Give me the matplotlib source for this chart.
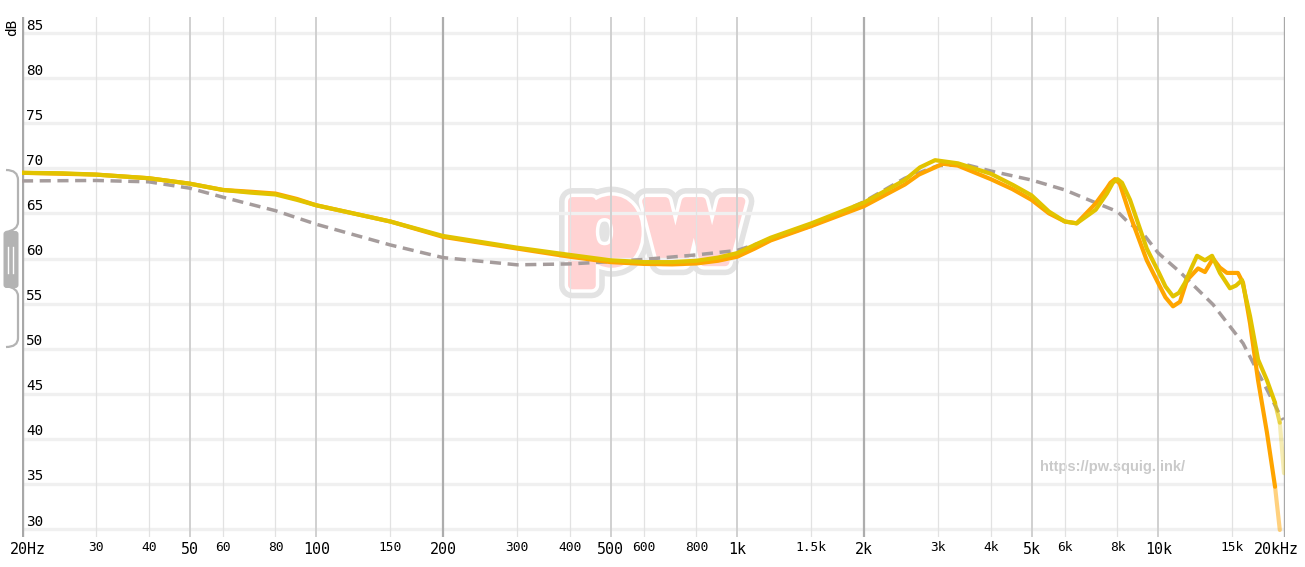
import numpy as np
import matplotlib
matplotlib.use("Agg")
import matplotlib.pyplot as plt
import matplotlib.patheffects as pe
from matplotlib.collections import LineCollection
from matplotlib.patches import FancyBboxPatch, PathPatch
from matplotlib.path import Path

# ---------------- data ----------------
yellow_f = [20, 25, 30, 40, 50, 60, 70, 80, 90, 100, 150, 200, 300, 400, 500, 600, 700, 800,
            900, 1000, 1100, 1200, 1500, 2000, 2500, 2716, 2950, 3344, 4000, 4518, 5000, 5500,
            6000, 6400, 7100, 7550, 7800, 8000, 8200, 8570, 9390, 10040, 10400, 10840, 11200,
            11570, 12000, 12360, 12910, 13420, 14010, 14800, 15300, 15810, 16520, 17260,
            18120, 18940, 19440, 19890]
yellow_db = [69.5, 69.45, 69.3, 68.9, 68.3, 67.6, 67.3, 67.1, 66.5, 65.9, 64.1, 62.5, 61.2,
             60.4, 59.8, 59.6, 59.6, 59.75, 60.1, 60.6, 61.5, 62.3, 63.9, 66.2, 68.7, 70.1,
             70.9, 70.55, 69.4, 68.15, 67.0, 65.2, 64.1, 63.9, 65.4, 67.2, 68.4, 68.8, 68.4,
             66.5, 61.1, 58.4, 56.9, 55.8, 56.2, 57.3, 59.0, 60.3, 59.8, 60.3, 58.4, 56.7,
             57.0, 57.6, 53.6, 48.8, 46.5, 44.0, 41.8, 36.2]

orange_f = [20, 30, 40, 50, 60, 70, 80, 90, 100, 150, 200, 300, 400, 500, 600, 700, 800, 900,
            1000, 1100, 1200, 1500, 2000, 2500, 2700, 3080, 3340, 4000, 4500, 5000, 5500,
            6000, 6400, 7100, 7550, 7700, 7890, 8100, 8570, 9390, 10040, 10400, 10840, 11260,
            11700, 12430, 12910, 13490, 14000, 14560, 15460, 15900, 16520, 17260, 18120,
            18940, 19440]
orange_db = [69.5, 69.3, 68.9, 68.3, 67.6, 67.4, 67.2, 66.6, 65.9, 64.1, 62.4, 61.1, 60.2,
             59.6, 59.4, 59.35, 59.45, 59.75, 60.2, 61.1, 62.0, 63.6, 65.8, 68.2, 69.3, 70.5,
             70.3, 68.8, 67.7, 66.5, 65.0, 64.1, 63.9, 66.1, 67.8, 68.4, 68.8, 68.3, 64.8,
             59.8, 57.1, 55.7, 54.7, 55.2, 57.6, 58.9, 58.5, 60.0, 59.0, 58.4, 58.4, 57.3,
             52.8, 46.5, 40.7, 34.7, 29.9]

target_f = [20, 30, 40, 50, 60, 80, 100, 150, 200, 300, 400, 500, 600, 800, 1000, 1500, 2000,
            2500, 3000, 3500, 4000, 5000, 6000, 7000, 8000, 8570, 9050, 10000, 11260, 13490,
            15900, 19440, 19800]
target_db = [68.6, 68.65, 68.5, 67.8, 66.8, 65.3, 63.8, 61.5, 60.1, 59.3, 59.4, 59.65, 59.9,
             60.4, 60.9, 63.6, 66.3, 68.9, 70.3, 70.4, 69.7, 68.7, 67.6, 66.3, 65.2, 63.8,
             63.2, 60.6, 58.5, 54.9, 50.6, 42.7, 42.1]

y_ticks = [30, 35, 40, 45, 50, 55, 60, 65, 70, 75, 80, 85]
x_label_freqs = [20, 30, 40, 50, 60, 80, 100, 150, 200, 300, 400, 500, 600, 800, 1000, 1500,
                 2000, 3000, 4000, 5000, 6000, 8000, 10000, 15000, 20000]
x_label_text = ["20Hz", "30", "40", "50", "60", "80", "100", "150", "200", "300", "400", "500",
                "600", "800", "1k", "1.5k", "2k", "3k", "4k", "5k", "6k", "8k", "10k", "15k",
                "20kHz"]
big_labels = {20, 50, 100, 200, 500, 1000, 2000, 5000, 10000, 20000}
mid_lines = [50, 100, 500, 1000, 5000, 10000]
dark_lines = [200, 2000]
edge_lines = [20, 20000]

YELLOW = "#e2c300"
ORANGE = "#ffa500"
TARGET = "#a59c9c"

# ---------------- figure ----------------
W, H = 1305, 567
fig = plt.figure(figsize=(W / 100, H / 100), dpi=100)
fig.patch.set_facecolor("white")

bg = fig.add_axes([0, 0, 1, 1], zorder=0)
bg.set_xlim(0, W)
bg.set_ylim(H, 0)
bg.axis("off")

L, R, T, B = 22, 1285, 17, 537
ax = fig.add_axes([L / W, 1 - B / H, (R - L) / W, (B - T) / H], zorder=2)
ax.patch.set_alpha(0)
ax.set_xscale("log")
ax.set_xlim(20, 20000)
px_per_db = 9.02
ax.set_ylim(85 - (B - 33) / px_per_db, 85 + (33 - T) / px_per_db)
for s in ax.spines.values():
    s.set_visible(False)
ax.set_xticks([])
ax.set_yticks([])
ax.minorticks_off()

# horizontal grid
for v in y_ticks:
    ax.axhline(v, color="#f0f0f0", lw=2.4, zorder=0)

# vertical grid
for f in x_label_freqs:
    if f in edge_lines:
        ax.axvline(f, color="#a8a8a8", lw=2.4, zorder=1)
    elif f in dark_lines:
        ax.axvline(f, color="#adadad", lw=1.6, zorder=1)
    elif f in mid_lines:
        ax.axvline(f, color="#d0d0d0", lw=1.4, zorder=1)
    else:
        ax.axvline(f, color="#e2e2e2", lw=0.9, zorder=1)

mono = "DejaVu Sans Mono"
# y labels
for v in y_ticks:
    ax.text(0.0035, v + 7.5 / px_per_db, str(v), transform=ax.get_yaxis_transform(),
            ha="left", va="center", fontsize=10.4, family=mono, color="#000000", zorder=3)

# x labels
for f, t in zip(x_label_freqs, x_label_text):
    big = f in big_labels
    ha = "center"
    xx = f
    if f == 20:
        ha = "left"
        xx = 20 * 10 ** (-12 / 421)
    elif f == 20000:
        ha = "right"
        xx = 20000 * 10 ** (14 / 421)
    ax.text(xx, -0.025 if big else -0.021, t, transform=ax.get_xaxis_transform(),
            ha=ha, va="center", fontsize=10.8 if big else 9.3, family=mono,
            color="#000000", clip_on=False)

bg.text(12, 27, "dB", rotation=90, ha="center", va="center", fontsize=10.4,
        family=mono, color="#000000")

# watermark
PINK = "#ffd3d3"
bg.text(654, 262, "pw", fontsize=80, fontweight="bold", color=PINK, ha="center",
        va="baseline", family="DejaVu Sans", zorder=1,
        path_effects=[pe.Stroke(linewidth=19, foreground="#e3e3e3", joinstyle="round",
                                capstyle="round"),
                      pe.Stroke(linewidth=11, foreground="white", joinstyle="round",
                                capstyle="round"),
                      pe.Stroke(linewidth=6, foreground=PINK, joinstyle="round",
                                capstyle="round"),
                      pe.Normal()])
bg.text(1113, 467, "https://pw.squig.link/", fontsize=10.5, fontweight="bold",
        color="#cacaca", ha="center", va="center", family="Liberation Sans")

# left scale widget
wc = "#b3b3b3"
up = Path([(6, 170), (18, 170), (18, 180), (18, 222), (18, 230), (6, 232)],
          [Path.MOVETO, Path.CURVE3, Path.CURVE3, Path.LINETO, Path.CURVE3, Path.CURVE3])
bg.add_patch(PathPatch(up, fill=False, ec=wc, lw=1.6))
lo = Path([(6, 286), (18, 288), (18, 296), (18, 338), (18, 347), (6, 347)],
          [Path.MOVETO, Path.CURVE3, Path.CURVE3, Path.LINETO, Path.CURVE3, Path.CURVE3])
bg.add_patch(PathPatch(lo, fill=False, ec=wc, lw=1.6))
bg.add_patch(FancyBboxPatch((3.5, 231), 15, 57, boxstyle="round,pad=0,rounding_size=3",
                            fc=wc, ec="none"))
bg.plot([8.3, 8.3], [247, 273], color="white", lw=1.0)
bg.plot([13.3, 13.3], [247, 273], color="white", lw=1.0)


# curves
def draw_curve(fs, vs, color, fade_from, z, end_alpha):
    fs = np.asarray(fs, float)
    vs = np.asarray(vs, float)
    k = int(np.searchsorted(fs, fade_from))
    ax.plot(fs[:k + 1], vs[:k + 1], color=color, lw=3.0, solid_capstyle="round",
            solid_joinstyle="round", zorder=z)
    segs = [[(fs[i], vs[i]), (fs[i + 1], vs[i + 1])] for i in range(k, len(fs) - 1)]
    n = len(segs)
    alphas = [1.0 - (1.0 - end_alpha) * (i + 1) / n for i in range(n)]
    cols = [matplotlib.colors.to_rgba(color, a) for a in alphas]
    lc = LineCollection(segs, colors=cols, linewidths=3.0, capstyle="round", zorder=z)
    ax.add_collection(lc)


ax.plot(target_f, target_db, color=TARGET, lw=2.5, dashes=(3.2, 1.9), zorder=4)
draw_curve(orange_f, orange_db, ORANGE, 18940, 5, 0.5)
draw_curve(yellow_f, yellow_db, YELLOW, 18940, 6, 0.3)

fig.savefig("out.png", dpi=100, facecolor="white")
